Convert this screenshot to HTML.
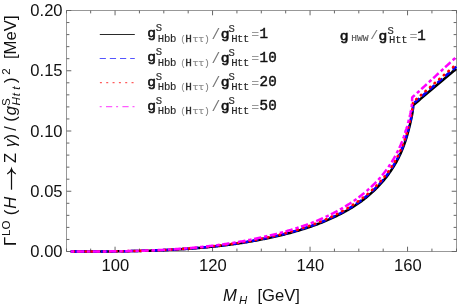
<!DOCTYPE html>
<html><head><meta charset="utf-8"><title>Plot</title>
<style>html,body{margin:0;padding:0;background:#fff;}body{width:458px;height:308px;overflow:hidden;position:relative;font-family:"Liberation Sans",sans-serif;}</style>
</head><body>
<svg width="458" height="308" viewBox="0 0 458 308" style="position:absolute;left:0;top:0;will-change:transform">
<rect width="458" height="308" fill="#fff"/>
<g stroke="#666" stroke-width="1" fill="none">
<rect x="66.50" y="10.50" width="390.00" height="241.00" stroke="#989898"/>
<path d="M66.50,251.50v-2.90 M66.50,10.50v2.90"/>
<path d="M90.67,251.50v-2.90 M90.67,10.50v2.90"/>
<path d="M115.05,251.50v-4.80 M115.05,10.50v4.80"/>
<path d="M139.43,251.50v-2.90 M139.43,10.50v2.90"/>
<path d="M163.80,251.50v-2.90 M163.80,10.50v2.90"/>
<path d="M188.18,251.50v-2.90 M188.18,10.50v2.90"/>
<path d="M212.55,251.50v-4.80 M212.55,10.50v4.80"/>
<path d="M236.93,251.50v-2.90 M236.93,10.50v2.90"/>
<path d="M261.30,251.50v-2.90 M261.30,10.50v2.90"/>
<path d="M285.68,251.50v-2.90 M285.68,10.50v2.90"/>
<path d="M310.05,251.50v-4.80 M310.05,10.50v4.80"/>
<path d="M334.43,251.50v-2.90 M334.43,10.50v2.90"/>
<path d="M358.80,251.50v-2.90 M358.80,10.50v2.90"/>
<path d="M383.18,251.50v-2.90 M383.18,10.50v2.90"/>
<path d="M407.55,251.50v-4.80 M407.55,10.50v4.80"/>
<path d="M431.93,251.50v-2.90 M431.93,10.50v2.90"/>
<path d="M456.50,251.50v-2.90 M456.50,10.50v2.90"/>
<path d="M66.50,251.50h4.80 M456.50,251.50h-4.80"/>
<path d="M66.50,239.45h2.90 M456.50,239.45h-2.90"/>
<path d="M66.50,227.40h2.90 M456.50,227.40h-2.90"/>
<path d="M66.50,215.35h2.90 M456.50,215.35h-2.90"/>
<path d="M66.50,203.30h2.90 M456.50,203.30h-2.90"/>
<path d="M66.50,191.25h4.80 M456.50,191.25h-4.80"/>
<path d="M66.50,179.20h2.90 M456.50,179.20h-2.90"/>
<path d="M66.50,167.15h2.90 M456.50,167.15h-2.90"/>
<path d="M66.50,155.10h2.90 M456.50,155.10h-2.90"/>
<path d="M66.50,143.05h2.90 M456.50,143.05h-2.90"/>
<path d="M66.50,131.00h4.80 M456.50,131.00h-4.80"/>
<path d="M66.50,118.95h2.90 M456.50,118.95h-2.90"/>
<path d="M66.50,106.90h2.90 M456.50,106.90h-2.90"/>
<path d="M66.50,94.85h2.90 M456.50,94.85h-2.90"/>
<path d="M66.50,82.80h2.90 M456.50,82.80h-2.90"/>
<path d="M66.50,70.75h4.80 M456.50,70.75h-4.80"/>
<path d="M66.50,58.70h2.90 M456.50,58.70h-2.90"/>
<path d="M66.50,46.65h2.90 M456.50,46.65h-2.90"/>
<path d="M66.50,34.60h2.90 M456.50,34.60h-2.90"/>
<path d="M66.50,22.55h2.90 M456.50,22.55h-2.90"/>
<path d="M66.50,10.50h4.80 M456.50,10.50h-4.80"/>
</g>
<clipPath id="c"><rect x="66.5" y="0" width="390.5" height="260"/></clipPath>
<g fill="none" stroke-width="2.5" clip-path="url(#c)" stroke-linejoin="round">
<path d="M70.69,251.50 L71.81,251.50 L72.92,251.50 L74.04,251.50 L75.16,251.50 L76.28,251.50 L77.40,251.50 L78.52,251.50 L79.64,251.50 L80.75,251.50 L81.87,251.50 L82.99,251.50 L84.11,251.50 L85.23,251.50 L86.35,251.49 L87.46,251.49 L88.58,251.49 L89.70,251.49 L90.82,251.49 L91.94,251.48 L93.06,251.48 L94.18,251.48 L95.29,251.48 L96.41,251.47 L97.53,251.47 L98.65,251.46 L99.77,251.46 L100.89,251.45 L102.00,251.45 L103.12,251.44 L104.24,251.44 L105.36,251.43 L106.48,251.42 L107.60,251.41 L108.72,251.41 L109.83,251.40 L110.95,251.39 L112.07,251.38 L113.19,251.37 L114.31,251.36 L115.43,251.35 L116.55,251.33 L117.66,251.32 L118.78,251.31 L119.90,251.29 L121.02,251.28 L122.14,251.26 L123.26,251.25 L124.37,251.23 L125.49,251.22 L126.61,251.20 L127.73,251.18 L128.85,251.16 L129.97,251.14 L131.09,251.12 L132.20,251.10 L133.32,251.08 L134.44,251.05 L135.56,251.03 L136.68,251.00 L137.80,250.98 L138.91,250.95 L140.03,250.92 L141.15,250.90 L142.27,250.87 L143.39,250.84 L144.51,250.81 L145.63,250.78 L146.74,250.74 L147.86,250.71 L148.98,250.67 L150.10,250.64 L151.22,250.60 L152.34,250.57 L153.45,250.53 L154.57,250.49 L155.69,250.45 L156.81,250.40 L157.93,250.36 L159.05,250.32 L160.17,250.27 L161.28,250.23 L162.40,250.18 L163.52,250.13 L164.64,250.08 L165.76,250.03 L166.88,249.98 L168.00,249.93 L169.11,249.87 L170.23,249.82 L171.35,249.76 L172.47,249.70 L173.59,249.64 L174.71,249.58 L175.82,249.52 L176.94,249.46 L178.06,249.39 L179.18,249.33 L180.30,249.26 L181.42,249.19 L182.54,249.12 L183.65,249.05 L184.77,248.98 L185.89,248.90 L187.01,248.82 L188.13,248.75 L189.25,248.67 L190.36,248.59 L191.48,248.51 L192.60,248.42 L193.72,248.34 L194.84,248.25 L195.96,248.16 L197.08,248.07 L198.19,247.98 L199.31,247.89 L200.43,247.79 L201.55,247.70 L202.67,247.60 L203.79,247.50 L204.90,247.40 L206.02,247.29 L207.14,247.19 L208.26,247.08 L209.38,246.97 L210.50,246.86 L211.62,246.75 L212.73,246.64 L213.85,246.52 L214.97,246.40 L216.09,246.28 L217.21,246.16 L218.33,246.03 L219.45,245.91 L220.56,245.78 L221.68,245.65 L222.80,245.52 L223.92,245.38 L225.04,245.24 L226.16,245.11 L227.27,244.96 L228.39,244.82 L229.51,244.68 L230.63,244.53 L231.75,244.38 L232.87,244.23 L233.99,244.07 L235.10,243.91 L236.22,243.75 L237.34,243.59 L238.46,243.43 L239.58,243.26 L240.70,243.09 L241.81,242.92 L242.93,242.75 L244.05,242.57 L245.17,242.39 L246.29,242.21 L247.41,242.02 L248.53,241.83 L249.64,241.64 L250.76,241.45 L251.88,241.25 L253.00,241.05 L254.12,240.85 L255.24,240.65 L256.35,240.44 L257.47,240.23 L258.59,240.02 L259.71,239.80 L260.83,239.58 L261.95,239.36 L263.07,239.14 L264.18,238.92 L265.30,238.70 L266.42,238.47 L267.54,238.25 L268.66,238.01 L269.78,237.78 L270.90,237.54 L272.01,237.30 L273.13,237.05 L274.25,236.81 L275.37,236.56 L276.49,236.30 L277.61,236.04 L278.72,235.78 L279.84,235.52 L280.96,235.25 L282.08,234.98 L283.20,234.70 L284.32,234.42 L285.44,234.14 L286.55,233.85 L287.67,233.56 L288.79,233.27 L289.91,232.97 L291.03,232.67 L292.15,232.36 L293.26,232.06 L294.38,231.74 L295.50,231.42 L296.62,231.10 L297.74,230.77 L298.86,230.44 L299.98,230.11 L301.09,229.77 L302.21,229.42 L303.33,229.07 L304.45,228.72 L305.57,228.36 L306.69,228.00 L307.80,227.63 L308.92,227.25 L310.04,226.88 L311.16,226.49 L312.28,226.09 L313.40,225.69 L314.52,225.28 L315.63,224.87 L316.75,224.46 L317.87,224.03 L318.99,223.60 L320.11,223.17 L321.23,222.72 L322.35,222.27 L323.46,221.82 L324.58,221.36 L325.70,220.89 L326.82,220.41 L327.94,219.93 L329.06,219.44 L330.17,218.94 L331.29,218.44 L332.41,217.92 L333.53,217.40 L334.65,216.88 L335.77,216.34 L336.89,215.79 L338.00,215.24 L339.12,214.68 L340.24,214.10 L341.36,213.52 L342.48,212.93 L343.60,212.33 L344.71,211.72 L345.83,211.10 L346.95,210.47 L348.07,209.83 L349.19,209.18 L350.31,208.52 L351.43,207.84 L352.54,207.15 L353.66,206.45 L354.78,205.74 L355.90,205.02 L357.02,204.28 L358.14,203.53 L359.25,202.75 L360.37,201.94 L361.49,201.12 L362.61,200.28 L363.73,199.42 L364.85,198.54 L365.97,197.65 L367.08,196.74 L368.20,195.80 L369.32,194.85 L370.44,193.87 L371.56,192.88 L372.68,191.86 L373.80,190.81 L374.91,189.74 L376.03,188.65 L377.15,187.52 L378.27,186.37 L379.39,185.19 L380.51,183.98 L381.62,182.73 L382.74,181.44 L383.86,180.12 L384.98,178.76 L386.10,177.36 L387.22,175.92 L388.34,174.42 L389.45,172.88 L390.57,171.28 L391.69,169.62 L392.81,167.89 L393.93,166.10 L395.05,164.23 L396.16,162.28 L397.28,160.23 L398.40,158.08 L399.52,155.81 L400.64,153.40 L401.76,150.84 L402.88,148.10 L403.99,145.14 L405.11,141.93 L405.11,141.93 L405.16,141.78 L405.21,141.63 L405.26,141.48 L405.31,141.33 L405.37,141.17 L405.42,141.02 L405.47,140.86 L405.52,140.71 L405.57,140.55 L405.62,140.39 L405.67,140.24 L405.72,140.08 L405.77,139.92 L405.82,139.76 L405.87,139.60 L405.92,139.44 L405.97,139.28 L406.02,139.12 L406.07,138.95 L406.12,138.79 L406.17,138.63 L406.23,138.46 L406.28,138.30 L406.33,138.13 L406.38,137.97 L406.43,137.80 L406.48,137.63 L406.53,137.47 L406.58,137.30 L406.63,137.13 L406.68,136.96 L406.73,136.79 L406.78,136.62 L406.83,136.45 L406.88,136.28 L406.93,136.10 L406.98,135.93 L407.03,135.75 L407.09,135.58 L407.14,135.40 L407.19,135.23 L407.24,135.05 L407.29,134.87 L407.34,134.70 L407.39,134.52 L407.44,134.34 L407.49,134.16 L407.54,133.98 L407.59,133.80 L407.64,133.62 L407.69,133.43 L407.74,133.25 L407.79,133.07 L407.84,132.88 L407.89,132.70 L407.95,132.51 L408.00,132.33 L408.05,132.14 L408.10,131.95 L408.15,131.76 L408.20,131.57 L408.25,131.38 L408.30,131.19 L408.35,131.00 L408.40,130.81 L408.45,130.62 L408.50,130.43 L408.55,130.23 L408.60,130.04 L408.65,129.84 L408.70,129.65 L408.75,129.45 L408.81,129.25 L408.86,129.06 L408.91,128.86 L408.96,128.66 L409.01,128.46 L409.06,128.26 L409.11,128.06 L409.16,127.85 L409.21,127.65 L409.26,127.45 L409.31,127.24 L409.36,127.04 L409.41,126.84 L409.46,126.63 L409.51,126.42 L409.56,126.21 L409.61,126.01 L409.67,125.80 L409.72,125.59 L409.77,125.38 L409.82,125.17 L409.87,124.95 L409.92,124.74 L409.97,124.53 L410.02,124.31 L410.07,124.10 L410.12,123.88 L410.17,123.67 L410.22,123.45 L410.27,123.23 L410.32,123.01 L410.37,122.79 L410.42,122.57 L410.47,122.35 L410.53,122.13 L410.58,121.91 L410.63,121.68 L410.68,121.46 L410.73,121.23 L410.78,121.01 L410.83,120.78 L410.88,120.55 L410.93,120.32 L410.98,120.09 L411.03,119.86 L411.08,119.63 L411.13,119.39 L411.18,119.16 L411.23,118.92 L411.28,118.68 L411.34,118.44 L411.39,118.20 L411.44,117.96 L411.49,117.72 L411.54,117.48 L411.59,117.23 L411.64,116.98 L411.69,116.73 L411.74,116.48 L411.79,116.23 L411.84,115.97 L411.89,115.72 L411.94,115.46 L411.99,115.19 L412.04,114.93 L412.09,114.66 L412.14,114.39 L412.20,114.12 L412.25,113.84 L412.30,113.56 L412.35,113.27 L412.40,112.98 L412.45,112.68 L412.50,112.37 L412.55,112.06 L412.60,111.74 L412.65,111.41 L412.70,111.07 L412.75,110.71 L412.80,110.34 L412.85,109.95 L412.90,109.52 L412.95,109.06 L413.00,108.55 L413.06,107.95 L413.11,107.17 L413.16,105.30 L413.16,105.30 L414.64,104.02 L416.13,102.74 L417.62,101.46 L419.11,100.18 L420.59,98.90 L422.08,97.63 L423.57,96.36 L425.06,95.09 L426.55,93.82 L428.03,92.55 L429.52,91.29 L431.01,90.02 L432.50,88.76 L433.98,87.51 L435.47,86.25 L436.96,84.99 L438.45,83.74 L439.94,82.49 L441.42,81.24 L442.91,79.99 L444.40,78.75 L445.89,77.51 L447.37,76.27 L448.86,75.03 L450.35,73.79 L451.84,72.56 L453.32,71.33 L454.81,70.10 L456.30,68.87" stroke="#000"/>
<path d="M70.69,251.50 L71.81,251.50 L72.92,251.50 L74.04,251.50 L75.16,251.50 L76.28,251.50 L77.40,251.50 L78.52,251.50 L79.64,251.50 L80.75,251.50 L81.87,251.50 L82.99,251.50 L84.11,251.50 L85.23,251.50 L86.35,251.49 L87.46,251.49 L88.58,251.49 L89.70,251.49 L90.82,251.49 L91.94,251.48 L93.06,251.48 L94.18,251.48 L95.29,251.47 L96.41,251.47 L97.53,251.47 L98.65,251.46 L99.77,251.46 L100.89,251.45 L102.00,251.45 L103.12,251.44 L104.24,251.43 L105.36,251.43 L106.48,251.42 L107.60,251.41 L108.72,251.40 L109.83,251.39 L110.95,251.38 L112.07,251.37 L113.19,251.36 L114.31,251.35 L115.43,251.34 L116.55,251.33 L117.66,251.31 L118.78,251.30 L119.90,251.29 L121.02,251.27 L122.14,251.25 L123.26,251.24 L124.37,251.22 L125.49,251.20 L126.61,251.19 L127.73,251.17 L128.85,251.15 L129.97,251.13 L131.09,251.10 L132.20,251.08 L133.32,251.06 L134.44,251.03 L135.56,251.01 L136.68,250.98 L137.80,250.96 L138.91,250.93 L140.03,250.90 L141.15,250.87 L142.27,250.84 L143.39,250.81 L144.51,250.78 L145.63,250.75 L146.74,250.71 L147.86,250.68 L148.98,250.64 L150.10,250.61 L151.22,250.57 L152.34,250.53 L153.45,250.49 L154.57,250.45 L155.69,250.41 L156.81,250.36 L157.93,250.32 L159.05,250.27 L160.17,250.23 L161.28,250.18 L162.40,250.13 L163.52,250.08 L164.64,250.03 L165.76,249.98 L166.88,249.92 L168.00,249.87 L169.11,249.81 L170.23,249.75 L171.35,249.69 L172.47,249.63 L173.59,249.57 L174.71,249.51 L175.82,249.45 L176.94,249.38 L178.06,249.31 L179.18,249.25 L180.30,249.18 L181.42,249.11 L182.54,249.03 L183.65,248.96 L184.77,248.88 L185.89,248.81 L187.01,248.73 L188.13,248.65 L189.25,248.57 L190.36,248.48 L191.48,248.40 L192.60,248.31 L193.72,248.23 L194.84,248.14 L195.96,248.05 L197.08,247.95 L198.19,247.86 L199.31,247.76 L200.43,247.66 L201.55,247.56 L202.67,247.46 L203.79,247.36 L204.90,247.26 L206.02,247.15 L207.14,247.04 L208.26,246.93 L209.38,246.82 L210.50,246.70 L211.62,246.59 L212.73,246.47 L213.85,246.35 L214.97,246.23 L216.09,246.10 L217.21,245.98 L218.33,245.85 L219.45,245.72 L220.56,245.59 L221.68,245.45 L222.80,245.32 L223.92,245.18 L225.04,245.04 L226.16,244.89 L227.27,244.75 L228.39,244.60 L229.51,244.45 L230.63,244.30 L231.75,244.15 L232.87,243.99 L233.99,243.83 L235.10,243.67 L236.22,243.50 L237.34,243.34 L238.46,243.17 L239.58,243.00 L240.70,242.82 L241.81,242.65 L242.93,242.47 L244.05,242.29 L245.17,242.10 L246.29,241.91 L247.41,241.72 L248.53,241.53 L249.64,241.34 L250.76,241.14 L251.88,240.94 L253.00,240.73 L254.12,240.52 L255.24,240.31 L256.35,240.10 L257.47,239.88 L258.59,239.67 L259.71,239.44 L260.83,239.22 L261.95,238.99 L263.07,238.77 L264.18,238.55 L265.30,238.32 L266.42,238.09 L267.54,237.85 L268.66,237.62 L269.78,237.38 L270.90,237.13 L272.01,236.89 L273.13,236.64 L274.25,236.38 L275.37,236.13 L276.49,235.87 L277.61,235.61 L278.72,235.34 L279.84,235.07 L280.96,234.80 L282.08,234.52 L283.20,234.24 L284.32,233.95 L285.44,233.67 L286.55,233.37 L287.67,233.08 L288.79,232.78 L289.91,232.48 L291.03,232.17 L292.15,231.86 L293.26,231.54 L294.38,231.22 L295.50,230.90 L296.62,230.57 L297.74,230.24 L298.86,229.90 L299.98,229.56 L301.09,229.22 L302.21,228.87 L303.33,228.51 L304.45,228.15 L305.57,227.79 L306.69,227.42 L307.80,227.04 L308.92,226.66 L310.04,226.28 L311.16,225.88 L312.28,225.48 L313.40,225.07 L314.52,224.66 L315.63,224.24 L316.75,223.81 L317.87,223.38 L318.99,222.94 L320.11,222.50 L321.23,222.05 L322.35,221.59 L323.46,221.12 L324.58,220.65 L325.70,220.18 L326.82,219.69 L327.94,219.20 L329.06,218.70 L330.17,218.19 L331.29,217.68 L332.41,217.16 L333.53,216.63 L334.65,216.09 L335.77,215.54 L336.89,214.98 L338.00,214.42 L339.12,213.85 L340.24,213.27 L341.36,212.67 L342.48,212.07 L343.60,211.46 L344.71,210.84 L345.83,210.21 L346.95,209.57 L348.07,208.92 L349.19,208.25 L350.31,207.58 L351.43,206.89 L352.54,206.19 L353.66,205.48 L354.78,204.76 L355.90,204.02 L357.02,203.27 L358.14,202.50 L359.25,201.72 L360.37,200.90 L361.49,200.07 L362.61,199.22 L363.73,198.35 L364.85,197.47 L365.97,196.56 L367.08,195.64 L368.20,194.70 L369.32,193.74 L370.44,192.75 L371.56,191.75 L372.68,190.72 L373.80,189.66 L374.91,188.58 L376.03,187.48 L377.15,186.35 L378.27,185.19 L379.39,183.99 L380.51,182.77 L381.62,181.51 L382.74,180.22 L383.86,178.89 L384.98,177.51 L386.10,176.10 L387.22,174.63 L388.34,173.12 L389.45,171.56 L390.57,169.94 L391.69,168.26 L392.81,166.52 L393.93,164.71 L395.05,162.82 L396.16,160.85 L397.28,158.78 L398.40,156.61 L399.52,154.31 L400.64,151.89 L401.76,149.30 L402.88,146.54 L403.99,143.55 L405.11,140.32 L405.11,140.32 L405.16,140.16 L405.21,140.01 L405.26,139.86 L405.31,139.70 L405.37,139.55 L405.42,139.39 L405.47,139.23 L405.52,139.08 L405.57,138.92 L405.62,138.76 L405.67,138.60 L405.72,138.44 L405.77,138.28 L405.82,138.12 L405.87,137.96 L405.92,137.80 L405.97,137.64 L406.02,137.48 L406.07,137.31 L406.12,137.15 L406.17,136.98 L406.23,136.82 L406.28,136.65 L406.33,136.49 L406.38,136.32 L406.43,136.15 L406.48,135.98 L406.53,135.81 L406.58,135.64 L406.63,135.47 L406.68,135.30 L406.73,135.13 L406.78,134.96 L406.83,134.79 L406.88,134.61 L406.93,134.44 L406.98,134.26 L407.03,134.09 L407.09,133.91 L407.14,133.74 L407.19,133.56 L407.24,133.38 L407.29,133.20 L407.34,133.03 L407.39,132.85 L407.44,132.67 L407.49,132.48 L407.54,132.30 L407.59,132.12 L407.64,131.94 L407.69,131.75 L407.74,131.57 L407.79,131.39 L407.84,131.20 L407.89,131.01 L407.95,130.83 L408.00,130.64 L408.05,130.45 L408.10,130.26 L408.15,130.08 L408.20,129.89 L408.25,129.69 L408.30,129.50 L408.35,129.31 L408.40,129.12 L408.45,128.93 L408.50,128.73 L408.55,128.54 L408.60,128.34 L408.65,128.15 L408.70,127.95 L408.75,127.75 L408.81,127.56 L408.86,127.36 L408.91,127.16 L408.96,126.96 L409.01,126.76 L409.06,126.56 L409.11,126.36 L409.16,126.16 L409.21,125.95 L409.26,125.75 L409.31,125.54 L409.36,125.34 L409.41,125.13 L409.46,124.93 L409.51,124.72 L409.56,124.51 L409.61,124.31 L409.67,124.10 L409.72,123.89 L409.77,123.68 L409.82,123.46 L409.87,123.25 L409.92,123.04 L409.97,122.83 L410.02,122.61 L410.07,122.40 L410.12,122.18 L410.17,121.97 L410.22,121.75 L410.27,121.53 L410.32,121.31 L410.37,121.10 L410.42,120.88 L410.47,120.65 L410.53,120.43 L410.58,120.21 L410.63,119.99 L410.68,119.76 L410.73,119.54 L410.78,119.31 L410.83,119.09 L410.88,118.86 L410.93,118.63 L410.98,118.40 L411.03,118.17 L411.08,117.94 L411.13,117.71 L411.18,117.47 L411.23,117.24 L411.28,117.00 L411.34,116.76 L411.39,116.52 L411.44,116.28 L411.49,116.04 L411.54,115.80 L411.59,115.56 L411.64,115.31 L411.69,115.06 L411.74,114.81 L411.79,114.56 L411.84,114.31 L411.89,114.06 L411.94,113.80 L411.99,113.54 L412.04,113.28 L412.09,113.01 L412.14,112.74 L412.20,112.47 L412.25,112.19 L412.30,111.91 L412.35,111.63 L412.40,111.34 L412.45,111.04 L412.50,110.74 L412.55,110.43 L412.60,110.12 L412.65,109.79 L412.70,109.45 L412.75,109.10 L412.80,108.73 L412.85,108.34 L412.90,107.92 L412.95,107.46 L413.00,106.95 L413.06,106.35 L413.11,105.58 L413.16,103.70 L413.16,103.70 L414.64,102.42 L416.13,101.13 L417.62,99.84 L419.11,98.55 L420.59,97.26 L422.08,95.97 L423.57,94.69 L425.06,93.40 L426.55,92.11 L428.03,90.83 L429.52,89.55 L431.01,88.27 L432.50,86.99 L433.98,85.71 L435.47,84.43 L436.96,83.16 L438.45,81.89 L439.94,80.61 L441.42,79.35 L442.91,78.08 L444.40,76.81 L445.89,75.55 L447.37,74.28 L448.86,73.02 L450.35,71.77 L451.84,70.51 L453.32,69.25 L454.81,68.00 L456.30,66.75" stroke="#0000ff" stroke-dasharray="6.6 3.5"/>
<path d="M70.69,251.50 L71.81,251.50 L72.92,251.50 L74.04,251.50 L75.16,251.50 L76.28,251.50 L77.40,251.50 L78.52,251.50 L79.64,251.50 L80.75,251.50 L81.87,251.50 L82.99,251.50 L84.11,251.50 L85.23,251.50 L86.35,251.49 L87.46,251.49 L88.58,251.49 L89.70,251.49 L90.82,251.49 L91.94,251.48 L93.06,251.48 L94.18,251.48 L95.29,251.47 L96.41,251.47 L97.53,251.46 L98.65,251.46 L99.77,251.45 L100.89,251.45 L102.00,251.44 L103.12,251.44 L104.24,251.43 L105.36,251.42 L106.48,251.41 L107.60,251.41 L108.72,251.40 L109.83,251.39 L110.95,251.38 L112.07,251.37 L113.19,251.36 L114.31,251.34 L115.43,251.33 L116.55,251.32 L117.66,251.30 L118.78,251.29 L119.90,251.28 L121.02,251.26 L122.14,251.24 L123.26,251.23 L124.37,251.21 L125.49,251.19 L126.61,251.17 L127.73,251.15 L128.85,251.13 L129.97,251.11 L131.09,251.09 L132.20,251.06 L133.32,251.04 L134.44,251.01 L135.56,250.99 L136.68,250.96 L137.80,250.93 L138.91,250.90 L140.03,250.88 L141.15,250.85 L142.27,250.81 L143.39,250.78 L144.51,250.75 L145.63,250.71 L146.74,250.68 L147.86,250.64 L148.98,250.61 L150.10,250.57 L151.22,250.53 L152.34,250.49 L153.45,250.45 L154.57,250.40 L155.69,250.36 L156.81,250.31 L157.93,250.27 L159.05,250.22 L160.17,250.17 L161.28,250.12 L162.40,250.07 L163.52,250.02 L164.64,249.97 L165.76,249.91 L166.88,249.86 L168.00,249.80 L169.11,249.74 L170.23,249.68 L171.35,249.62 L172.47,249.56 L173.59,249.49 L174.71,249.43 L175.82,249.36 L176.94,249.29 L178.06,249.23 L179.18,249.15 L180.30,249.08 L181.42,249.01 L182.54,248.93 L183.65,248.86 L184.77,248.78 L185.89,248.70 L187.01,248.62 L188.13,248.54 L189.25,248.45 L190.36,248.37 L191.48,248.28 L192.60,248.19 L193.72,248.10 L194.84,248.01 L195.96,247.91 L197.08,247.82 L198.19,247.72 L199.31,247.62 L200.43,247.52 L201.55,247.41 L202.67,247.31 L203.79,247.20 L204.90,247.09 L206.02,246.98 L207.14,246.87 L208.26,246.76 L209.38,246.64 L210.50,246.52 L211.62,246.40 L212.73,246.28 L213.85,246.16 L214.97,246.03 L216.09,245.90 L217.21,245.77 L218.33,245.64 L219.45,245.51 L220.56,245.37 L221.68,245.23 L222.80,245.09 L223.92,244.95 L225.04,244.80 L226.16,244.66 L227.27,244.51 L228.39,244.35 L229.51,244.20 L230.63,244.04 L231.75,243.88 L232.87,243.72 L233.99,243.56 L235.10,243.39 L236.22,243.22 L237.34,243.05 L238.46,242.88 L239.58,242.70 L240.70,242.52 L241.81,242.34 L242.93,242.15 L244.05,241.97 L245.17,241.78 L246.29,241.58 L247.41,241.39 L248.53,241.19 L249.64,240.99 L250.76,240.78 L251.88,240.58 L253.00,240.37 L254.12,240.15 L255.24,239.94 L256.35,239.72 L257.47,239.49 L258.59,239.27 L259.71,239.04 L260.83,238.81 L261.95,238.58 L263.07,238.35 L264.18,238.12 L265.30,237.89 L266.42,237.65 L267.54,237.41 L268.66,237.17 L269.78,236.92 L270.90,236.67 L272.01,236.42 L273.13,236.17 L274.25,235.91 L275.37,235.65 L276.49,235.38 L277.61,235.11 L278.72,234.84 L279.84,234.56 L280.96,234.29 L282.08,234.00 L283.20,233.72 L284.32,233.43 L285.44,233.13 L286.55,232.83 L287.67,232.53 L288.79,232.23 L289.91,231.92 L291.03,231.60 L292.15,231.29 L293.26,230.97 L294.38,230.64 L295.50,230.31 L296.62,229.98 L297.74,229.64 L298.86,229.30 L299.98,228.95 L301.09,228.60 L302.21,228.24 L303.33,227.88 L304.45,227.51 L305.57,227.14 L306.69,226.77 L307.80,226.39 L308.92,226.00 L310.04,225.61 L311.16,225.20 L312.28,224.79 L313.40,224.37 L314.52,223.95 L315.63,223.52 L316.75,223.09 L317.87,222.64 L318.99,222.20 L320.11,221.74 L321.23,221.28 L322.35,220.82 L323.46,220.34 L324.58,219.86 L325.70,219.37 L326.82,218.88 L327.94,218.38 L329.06,217.87 L330.17,217.35 L331.29,216.82 L332.41,216.29 L333.53,215.75 L334.65,215.20 L335.77,214.64 L336.89,214.08 L338.00,213.50 L339.12,212.92 L340.24,212.32 L341.36,211.72 L342.48,211.11 L343.60,210.48 L344.71,209.85 L345.83,209.21 L346.95,208.55 L348.07,207.89 L349.19,207.21 L350.31,206.52 L351.43,205.82 L352.54,205.11 L353.66,204.39 L354.78,203.65 L355.90,202.90 L357.02,202.13 L358.14,201.35 L359.25,200.55 L360.37,199.73 L361.49,198.88 L362.61,198.03 L363.73,197.15 L364.85,196.25 L365.97,195.34 L367.08,194.41 L368.20,193.46 L369.32,192.49 L370.44,191.49 L371.56,190.48 L372.68,189.44 L373.80,188.37 L374.91,187.28 L376.03,186.17 L377.15,185.03 L378.27,183.85 L379.39,182.65 L380.51,181.42 L381.62,180.15 L382.74,178.85 L383.86,177.50 L384.98,176.11 L386.10,174.67 L387.22,173.19 L388.34,171.66 L389.45,170.08 L390.57,168.44 L391.69,166.75 L392.81,164.98 L393.93,163.15 L395.05,161.24 L396.16,159.24 L397.28,157.15 L398.40,154.96 L399.52,152.64 L400.64,150.19 L401.76,147.58 L402.88,144.78 L403.99,141.77 L405.11,138.50 L405.11,138.50 L405.16,138.35 L405.21,138.20 L405.26,138.05 L405.31,137.90 L405.36,137.75 L405.41,137.60 L405.46,137.44 L405.50,137.29 L405.55,137.14 L405.60,136.98 L405.65,136.83 L405.70,136.67 L405.75,136.51 L405.80,136.36 L405.85,136.20 L405.90,136.04 L405.95,135.88 L406.00,135.73 L406.04,135.57 L406.09,135.41 L406.14,135.25 L406.19,135.08 L406.24,134.92 L406.29,134.76 L406.34,134.60 L406.39,134.43 L406.44,134.27 L406.49,134.11 L406.54,133.94 L406.58,133.77 L406.63,133.61 L406.68,133.44 L406.73,133.27 L406.78,133.11 L406.83,132.94 L406.88,132.77 L406.93,132.60 L406.98,132.43 L407.03,132.26 L407.07,132.09 L407.12,131.91 L407.17,131.74 L407.22,131.57 L407.27,131.39 L407.32,131.22 L407.37,131.04 L407.42,130.87 L407.47,130.69 L407.52,130.52 L407.57,130.34 L407.61,130.16 L407.66,129.98 L407.71,129.80 L407.76,129.62 L407.81,129.44 L407.86,129.26 L407.91,129.08 L407.96,128.90 L408.01,128.72 L408.06,128.53 L408.10,128.35 L408.15,128.16 L408.20,127.98 L408.25,127.79 L408.30,127.61 L408.35,127.42 L408.40,127.23 L408.45,127.04 L408.50,126.86 L408.55,126.67 L408.60,126.48 L408.64,126.29 L408.69,126.10 L408.74,125.90 L408.79,125.71 L408.84,125.52 L408.89,125.33 L408.94,125.13 L408.99,124.94 L409.04,124.74 L409.09,124.54 L409.14,124.35 L409.18,124.15 L409.23,123.95 L409.28,123.75 L409.33,123.56 L409.38,123.36 L409.43,123.15 L409.48,122.95 L409.53,122.75 L409.58,122.55 L409.63,122.35 L409.67,122.14 L409.72,121.94 L409.77,121.73 L409.82,121.53 L409.87,121.32 L409.92,121.11 L409.97,120.90 L410.02,120.70 L410.07,120.49 L410.12,120.28 L410.17,120.06 L410.21,119.85 L410.26,119.64 L410.31,119.43 L410.36,119.21 L410.41,119.00 L410.46,118.78 L410.51,118.56 L410.56,118.35 L410.61,118.13 L410.66,117.91 L410.70,117.69 L410.75,117.47 L410.80,117.24 L410.85,117.02 L410.90,116.79 L410.95,116.57 L411.00,116.34 L411.05,116.11 L411.10,115.88 L411.15,115.65 L411.20,115.42 L411.24,115.18 L411.29,114.95 L411.34,114.71 L411.39,114.47 L411.44,114.23 L411.49,113.99 L411.54,113.74 L411.59,113.49 L411.64,113.24 L411.69,112.99 L411.74,112.74 L411.78,112.48 L411.83,112.22 L411.88,111.95 L411.93,111.69 L411.98,111.41 L412.03,111.14 L412.08,110.86 L412.13,110.57 L412.18,110.28 L412.23,109.98 L412.27,109.67 L412.32,109.35 L412.37,109.03 L412.42,108.69 L412.47,108.34 L412.52,107.97 L412.57,107.58 L412.62,107.17 L412.67,106.73 L412.72,106.24 L412.77,105.69 L412.81,105.04 L412.86,104.19 L412.91,102.11 L412.91,102.11 L414.41,100.82 L415.90,99.52 L417.40,98.21 L418.90,96.90 L420.39,95.59 L421.89,94.28 L423.39,92.97 L424.88,91.66 L426.38,90.35 L427.87,89.04 L429.37,87.73 L430.87,86.42 L432.36,85.11 L433.86,83.81 L435.35,82.50 L436.85,81.20 L438.35,79.90 L439.84,78.60 L441.34,77.30 L442.83,76.00 L444.33,74.70 L445.83,73.41 L447.32,72.11 L448.82,70.82 L450.32,69.53 L451.81,68.24 L453.31,66.96 L454.80,65.67 L456.30,64.39" stroke="#ff0000" stroke-dasharray="0.6 5.5" stroke-dashoffset="-2.65" stroke-linecap="round" stroke-width="2.6"/>
<path d="M70.69,251.50 L71.81,251.50 L72.92,251.50 L74.04,251.50 L75.16,251.50 L76.28,251.50 L77.40,251.50 L78.52,251.50 L79.64,251.50 L80.75,251.50 L81.87,251.50 L82.99,251.50 L84.11,251.50 L85.23,251.49 L86.35,251.49 L87.46,251.49 L88.58,251.49 L89.70,251.49 L90.82,251.48 L91.94,251.48 L93.06,251.48 L94.18,251.47 L95.29,251.47 L96.41,251.46 L97.53,251.46 L98.65,251.45 L99.77,251.45 L100.89,251.44 L102.00,251.43 L103.12,251.43 L104.24,251.42 L105.36,251.41 L106.48,251.40 L107.60,251.39 L108.72,251.38 L109.83,251.37 L110.95,251.36 L112.07,251.35 L113.19,251.34 L114.31,251.32 L115.43,251.31 L116.55,251.29 L117.66,251.28 L118.78,251.26 L119.90,251.24 L121.02,251.23 L122.14,251.21 L123.26,251.19 L124.37,251.17 L125.49,251.15 L126.61,251.13 L127.73,251.10 L128.85,251.08 L129.97,251.05 L131.09,251.03 L132.20,251.00 L133.32,250.98 L134.44,250.95 L135.56,250.92 L136.68,250.89 L137.80,250.86 L138.91,250.82 L140.03,250.79 L141.15,250.76 L142.27,250.72 L143.39,250.69 L144.51,250.65 L145.63,250.61 L146.74,250.57 L147.86,250.53 L148.98,250.49 L150.10,250.44 L151.22,250.40 L152.34,250.35 L153.45,250.31 L154.57,250.26 L155.69,250.21 L156.81,250.16 L157.93,250.11 L159.05,250.06 L160.17,250.00 L161.28,249.95 L162.40,249.89 L163.52,249.83 L164.64,249.77 L165.76,249.71 L166.88,249.65 L168.00,249.58 L169.11,249.52 L170.23,249.45 L171.35,249.38 L172.47,249.31 L173.59,249.24 L174.71,249.17 L175.82,249.10 L176.94,249.02 L178.06,248.94 L179.18,248.86 L180.30,248.78 L181.42,248.70 L182.54,248.62 L183.65,248.53 L184.77,248.45 L185.89,248.36 L187.01,248.27 L188.13,248.18 L189.25,248.08 L190.36,247.99 L191.48,247.89 L192.60,247.79 L193.72,247.69 L194.84,247.59 L195.96,247.48 L197.08,247.38 L198.19,247.27 L199.31,247.16 L200.43,247.05 L201.55,246.93 L202.67,246.82 L203.79,246.70 L204.90,246.58 L206.02,246.46 L207.14,246.33 L208.26,246.21 L209.38,246.08 L210.50,245.95 L211.62,245.82 L212.73,245.68 L213.85,245.55 L214.97,245.41 L216.09,245.27 L217.21,245.12 L218.33,244.98 L219.45,244.83 L220.56,244.68 L221.68,244.53 L222.80,244.37 L223.92,244.22 L225.04,244.06 L226.16,243.90 L227.27,243.73 L228.39,243.56 L229.51,243.39 L230.63,243.22 L231.75,243.05 L232.87,242.87 L233.99,242.69 L235.10,242.51 L236.22,242.32 L237.34,242.14 L238.46,241.95 L239.58,241.75 L240.70,241.56 L241.81,241.36 L242.93,241.16 L244.05,240.95 L245.17,240.74 L246.29,240.53 L247.41,240.32 L248.53,240.10 L249.64,239.88 L250.76,239.66 L251.88,239.44 L253.00,239.21 L254.12,238.97 L255.24,238.74 L256.35,238.50 L257.47,238.26 L258.59,238.01 L259.71,237.76 L260.83,237.51 L261.95,237.26 L263.07,237.02 L264.18,236.77 L265.30,236.52 L266.42,236.27 L267.54,236.01 L268.66,235.75 L269.78,235.49 L270.90,235.22 L272.01,234.95 L273.13,234.68 L274.25,234.41 L275.37,234.13 L276.49,233.84 L277.61,233.56 L278.72,233.27 L279.84,232.97 L280.96,232.68 L282.08,232.38 L283.20,232.07 L284.32,231.76 L285.44,231.45 L286.55,231.14 L287.67,230.82 L288.79,230.49 L289.91,230.16 L291.03,229.83 L292.15,229.50 L293.26,229.16 L294.38,228.81 L295.50,228.46 L296.62,228.11 L297.74,227.76 L298.86,227.39 L299.98,227.03 L301.09,226.66 L302.21,226.28 L303.33,225.90 L304.45,225.52 L305.57,225.13 L306.69,224.73 L307.80,224.33 L308.92,223.93 L310.04,223.52 L311.16,223.09 L312.28,222.65 L313.40,222.20 L314.52,221.75 L315.63,221.29 L316.75,220.83 L317.87,220.36 L318.99,219.88 L320.11,219.40 L321.23,218.91 L322.35,218.41 L323.46,217.90 L324.58,217.39 L325.70,216.87 L326.82,216.35 L327.94,215.81 L329.06,215.27 L330.17,214.72 L331.29,214.16 L332.41,213.59 L333.53,213.02 L334.65,212.44 L335.77,211.84 L336.89,211.24 L338.00,210.63 L339.12,210.01 L340.24,209.38 L341.36,208.74 L342.48,208.09 L343.60,207.43 L344.71,206.76 L345.83,206.08 L346.95,205.38 L348.07,204.68 L349.19,203.96 L350.31,203.23 L351.43,202.49 L352.54,201.74 L353.66,200.97 L354.78,200.19 L355.90,199.40 L357.02,198.59 L358.14,197.77 L359.25,196.93 L360.37,196.07 L361.49,195.20 L362.61,194.32 L363.73,193.41 L364.85,192.49 L365.97,191.55 L367.08,190.59 L368.20,189.61 L369.32,188.61 L370.44,187.59 L371.56,186.54 L372.68,185.48 L373.80,184.38 L374.91,183.27 L376.03,182.12 L377.15,180.95 L378.27,179.75 L379.39,178.52 L380.51,177.26 L381.62,175.96 L382.74,174.63 L383.86,173.24 L384.98,171.79 L386.10,170.30 L387.22,168.77 L388.34,167.18 L389.45,165.54 L390.57,163.85 L391.69,162.09 L392.81,160.27 L393.93,158.37 L395.05,156.39 L396.16,154.33 L397.28,152.17 L398.40,149.90 L399.52,147.51 L400.64,144.98 L401.76,142.29 L402.88,139.41 L403.99,136.31 L405.11,132.95 L405.11,132.95 L405.16,132.81 L405.20,132.67 L405.25,132.53 L405.29,132.39 L405.33,132.25 L405.38,132.11 L405.42,131.96 L405.47,131.82 L405.51,131.68 L405.56,131.54 L405.60,131.39 L405.65,131.25 L405.69,131.10 L405.73,130.96 L405.78,130.81 L405.82,130.67 L405.87,130.52 L405.91,130.38 L405.96,130.23 L406.00,130.08 L406.05,129.93 L406.09,129.78 L406.14,129.64 L406.18,129.49 L406.22,129.34 L406.27,129.19 L406.31,129.04 L406.36,128.88 L406.40,128.73 L406.45,128.58 L406.49,128.43 L406.54,128.28 L406.58,128.12 L406.62,127.97 L406.67,127.81 L406.71,127.66 L406.76,127.50 L406.80,127.35 L406.85,127.19 L406.89,127.04 L406.94,126.88 L406.98,126.72 L407.02,126.56 L407.07,126.40 L407.11,126.25 L407.16,126.09 L407.20,125.93 L407.25,125.77 L407.29,125.61 L407.34,125.44 L407.38,125.28 L407.42,125.12 L407.47,124.96 L407.51,124.79 L407.56,124.63 L407.60,124.47 L407.65,124.30 L407.69,124.14 L407.74,123.97 L407.78,123.81 L407.82,123.64 L407.87,123.47 L407.91,123.31 L407.96,123.14 L408.00,122.97 L408.05,122.80 L408.09,122.63 L408.14,122.46 L408.18,122.29 L408.22,122.12 L408.27,121.95 L408.31,121.78 L408.36,121.60 L408.40,121.43 L408.45,121.26 L408.49,121.08 L408.54,120.91 L408.58,120.73 L408.62,120.56 L408.67,120.38 L408.71,120.21 L408.76,120.03 L408.80,119.85 L408.85,119.67 L408.89,119.49 L408.94,119.31 L408.98,119.13 L409.02,118.95 L409.07,118.77 L409.11,118.59 L409.16,118.41 L409.20,118.22 L409.25,118.04 L409.29,117.86 L409.34,117.67 L409.38,117.48 L409.42,117.30 L409.47,117.11 L409.51,116.92 L409.56,116.73 L409.60,116.54 L409.65,116.35 L409.69,116.16 L409.74,115.97 L409.78,115.77 L409.83,115.58 L409.87,115.38 L409.91,115.19 L409.96,114.99 L410.00,114.79 L410.05,114.59 L410.09,114.39 L410.14,114.19 L410.18,113.99 L410.23,113.78 L410.27,113.58 L410.31,113.37 L410.36,113.16 L410.40,112.95 L410.45,112.74 L410.49,112.53 L410.54,112.31 L410.58,112.10 L410.63,111.88 L410.67,111.66 L410.71,111.43 L410.76,111.21 L410.80,110.98 L410.85,110.75 L410.89,110.52 L410.94,110.28 L410.98,110.04 L411.03,109.80 L411.07,109.56 L411.11,109.31 L411.16,109.05 L411.20,108.80 L411.25,108.53 L411.29,108.26 L411.34,107.99 L411.38,107.71 L411.43,107.42 L411.47,107.13 L411.51,106.83 L411.56,106.51 L411.60,106.19 L411.65,105.85 L411.69,105.50 L411.74,105.14 L411.78,104.76 L411.83,104.35 L411.87,103.92 L411.91,103.45 L411.96,102.94 L412.00,102.38 L412.05,101.73 L412.09,100.95 L412.14,99.92 L412.18,97.35 L412.18,97.35 L413.70,96.04 L415.22,94.69 L416.75,93.33 L418.27,91.95 L419.79,90.56 L421.31,89.18 L422.83,87.78 L424.35,86.39 L425.87,84.99 L427.39,83.59 L428.92,82.19 L430.44,80.79 L431.96,79.39 L433.48,77.99 L435.00,76.59 L436.52,75.19 L438.04,73.79 L439.57,72.39 L441.09,70.98 L442.61,69.58 L444.13,68.18 L445.65,66.78 L447.17,65.38 L448.69,63.98 L450.21,62.58 L451.74,61.19 L453.26,59.79 L454.78,58.39 L456.30,57.00" stroke="#ff00ff" stroke-dasharray="3.4 2.5 7.4 2.9"/>
</g>
<g font-family="Liberation Sans, sans-serif" font-size="16.6" fill="#111">
<text x="115.45" y="271" text-anchor="middle">100</text>
<text x="212.95" y="271" text-anchor="middle">120</text>
<text x="310.45" y="271" text-anchor="middle">140</text>
<text x="407.95" y="271" text-anchor="middle">160</text>
<text x="62.6" y="257.00" text-anchor="end">0.00</text>
<text x="62.6" y="196.75" text-anchor="end">0.05</text>
<text x="62.6" y="136.50" text-anchor="end">0.10</text>
<text x="62.6" y="76.25" text-anchor="end">0.15</text>
<text x="62.6" y="16.00" text-anchor="end">0.20</text>
<text x="223" y="301.2" font-style="italic">M</text>
<text x="239" y="303.8" font-style="italic" font-size="11.4">H</text>
<text x="257.4" y="301.2">[GeV]</text>
<text transform="translate(15.70,246.10) rotate(-90)" >Γ</text>
<text transform="translate(9.80,236.00) rotate(-90)" font-size="11.6">LO</text>
<text transform="translate(15.70,215.30) rotate(-90)" >(</text>
<text transform="translate(15.70,208.80) rotate(-90)" font-style="italic">H</text>
<text transform="translate(15.70,163.00) rotate(-90)" >Z</text>
<text transform="translate(15.70,147.30) rotate(-90)" font-style="italic">γ</text>
<text transform="translate(15.70,139.60) rotate(-90)" >)</text>
<text transform="translate(15.70,130.80) rotate(-90)" >/</text>
<text transform="translate(15.70,121.80) rotate(-90)" >(</text>
<text transform="translate(15.70,115.30) rotate(-90)" font-style="italic">g</text>
<text transform="translate(9.80,105.90) rotate(-90)" font-size="11.6">S</text>
<text transform="translate(19.70,105.40) rotate(-90)" font-size="11.6" font-style="italic">H</text>
<text transform="translate(19.70,96.20) rotate(-90)" font-size="11.6" font-style="italic">t</text>
<text transform="translate(19.70,89.70) rotate(-90)" font-size="11.6" font-style="italic">t</text>
<text transform="translate(15.70,83.00) rotate(-90)" >)</text>
<text transform="translate(9.80,74.80) rotate(-90)" font-size="11.6">2</text>
<text transform="translate(15.70,59.10) rotate(-90)" font-size="16.8">[MeV]</text>
</g>
<g stroke="#111" stroke-width="1.25" fill="none"><path d="M11.5,189.7V169.4"/><path d="M7.2,174.0 Q10.6,172.4 11.5,169.0 Q12.4,172.4 15.8,174.0"/></g>
<g fill="none" stroke-width="1">
<path d="M99.8,34.5H134.8" stroke="#2a2a2a"/>
<path d="M99.7,58.5H134.8" stroke="#5555ff" stroke-dasharray="6.2 3.95"/>
<path d="M99.9,82.6H134" stroke="#ff5c5c" stroke-width="1.2" stroke-dasharray="2 4.33"/>
<path d="M99.7,106.6H135" stroke="#ff5cff" stroke-width="1.2" stroke-dasharray="2 4.3 6.2 3.9"/>
</g>
<g font-family="Liberation Mono, monospace">
<text transform="translate(147.20,37.40) scale(1.100,1)" font-size="13.30" fill="#111" stroke="#111" stroke-width="0.55">g</text><text transform="translate(155.80,31.40) scale(1.000,1)" font-size="10.60" fill="#222" stroke="#222" stroke-width="0.12">S</text><text transform="translate(157.80,41.70) scale(1.000,1)" font-size="10.60" fill="#222" stroke="#222" stroke-width="0.12" letter-spacing="-0.26">Hbb</text><text transform="translate(180.20,42.10) scale(1.000,1)" font-size="9.60" fill="#8a8a8a">(</text><text transform="translate(185.30,42.10) scale(1.000,1)" font-size="11.00" fill="#2a2a2a" stroke="#2a2a2a" stroke-width="0.30">H</text><text transform="translate(192.00,42.30) scale(1.200,1)" font-size="9.60" fill="#8a8a8a">τ</text><text transform="translate(197.80,42.30) scale(1.200,1)" font-size="9.60" fill="#8a8a8a">τ</text><text transform="translate(204.00,42.10) scale(1.000,1)" font-size="9.60" fill="#777">)</text><text transform="translate(211.60,38.90) scale(1.000,1)" font-size="14.60" fill="#777">/</text><text transform="translate(220.70,37.90) scale(1.100,1)" font-size="13.30" fill="#111" stroke="#111" stroke-width="0.55">g</text><text transform="translate(228.60,31.90) scale(1.000,1)" font-size="10.60" fill="#222" stroke="#222" stroke-width="0.12">S</text><text transform="translate(231.30,41.90) scale(1.000,1)" font-size="10.60" fill="#222" stroke="#222" stroke-width="0.12" letter-spacing="-0.56">Htt</text><text transform="translate(251.20,38.40) scale(1.000,1)" font-size="13.30" fill="#999">=</text><text transform="translate(259.40,38.20) scale(1.000,1)" font-size="14.20" fill="#111" stroke="#111" stroke-width="0.45" letter-spacing="0.40">1</text>
<text transform="translate(147.20,61.40) scale(1.100,1)" font-size="13.30" fill="#111" stroke="#111" stroke-width="0.55">g</text><text transform="translate(155.80,55.40) scale(1.000,1)" font-size="10.60" fill="#222" stroke="#222" stroke-width="0.12">S</text><text transform="translate(157.80,65.70) scale(1.000,1)" font-size="10.60" fill="#222" stroke="#222" stroke-width="0.12" letter-spacing="-0.26">Hbb</text><text transform="translate(180.20,66.10) scale(1.000,1)" font-size="9.60" fill="#8a8a8a">(</text><text transform="translate(185.30,66.10) scale(1.000,1)" font-size="11.00" fill="#2a2a2a" stroke="#2a2a2a" stroke-width="0.30">H</text><text transform="translate(192.00,66.30) scale(1.200,1)" font-size="9.60" fill="#8a8a8a">τ</text><text transform="translate(197.80,66.30) scale(1.200,1)" font-size="9.60" fill="#8a8a8a">τ</text><text transform="translate(204.00,66.10) scale(1.000,1)" font-size="9.60" fill="#777">)</text><text transform="translate(211.60,62.90) scale(1.000,1)" font-size="14.60" fill="#777">/</text><text transform="translate(220.70,61.90) scale(1.100,1)" font-size="13.30" fill="#111" stroke="#111" stroke-width="0.55">g</text><text transform="translate(228.60,55.90) scale(1.000,1)" font-size="10.60" fill="#222" stroke="#222" stroke-width="0.12">S</text><text transform="translate(231.30,65.90) scale(1.000,1)" font-size="10.60" fill="#222" stroke="#222" stroke-width="0.12" letter-spacing="-0.56">Htt</text><text transform="translate(251.20,62.40) scale(1.000,1)" font-size="13.30" fill="#999">=</text><text transform="translate(259.40,62.20) scale(1.000,1)" font-size="14.20" fill="#111" stroke="#111" stroke-width="0.45" letter-spacing="0.40">10</text>
<text transform="translate(147.20,85.50) scale(1.100,1)" font-size="13.30" fill="#111" stroke="#111" stroke-width="0.55">g</text><text transform="translate(155.80,79.50) scale(1.000,1)" font-size="10.60" fill="#222" stroke="#222" stroke-width="0.12">S</text><text transform="translate(157.80,89.80) scale(1.000,1)" font-size="10.60" fill="#222" stroke="#222" stroke-width="0.12" letter-spacing="-0.26">Hbb</text><text transform="translate(180.20,90.20) scale(1.000,1)" font-size="9.60" fill="#8a8a8a">(</text><text transform="translate(185.30,90.20) scale(1.000,1)" font-size="11.00" fill="#2a2a2a" stroke="#2a2a2a" stroke-width="0.30">H</text><text transform="translate(192.00,90.40) scale(1.200,1)" font-size="9.60" fill="#8a8a8a">τ</text><text transform="translate(197.80,90.40) scale(1.200,1)" font-size="9.60" fill="#8a8a8a">τ</text><text transform="translate(204.00,90.20) scale(1.000,1)" font-size="9.60" fill="#777">)</text><text transform="translate(211.60,87.00) scale(1.000,1)" font-size="14.60" fill="#777">/</text><text transform="translate(220.70,86.00) scale(1.100,1)" font-size="13.30" fill="#111" stroke="#111" stroke-width="0.55">g</text><text transform="translate(228.60,80.00) scale(1.000,1)" font-size="10.60" fill="#222" stroke="#222" stroke-width="0.12">S</text><text transform="translate(231.30,90.00) scale(1.000,1)" font-size="10.60" fill="#222" stroke="#222" stroke-width="0.12" letter-spacing="-0.56">Htt</text><text transform="translate(251.20,86.50) scale(1.000,1)" font-size="13.30" fill="#999">=</text><text transform="translate(259.40,86.30) scale(1.000,1)" font-size="14.20" fill="#111" stroke="#111" stroke-width="0.45" letter-spacing="0.40">20</text>
<text transform="translate(147.20,109.50) scale(1.100,1)" font-size="13.30" fill="#111" stroke="#111" stroke-width="0.55">g</text><text transform="translate(155.80,103.50) scale(1.000,1)" font-size="10.60" fill="#222" stroke="#222" stroke-width="0.12">S</text><text transform="translate(157.80,113.80) scale(1.000,1)" font-size="10.60" fill="#222" stroke="#222" stroke-width="0.12" letter-spacing="-0.26">Hbb</text><text transform="translate(180.20,114.20) scale(1.000,1)" font-size="9.60" fill="#8a8a8a">(</text><text transform="translate(185.30,114.20) scale(1.000,1)" font-size="11.00" fill="#2a2a2a" stroke="#2a2a2a" stroke-width="0.30">H</text><text transform="translate(192.00,114.40) scale(1.200,1)" font-size="9.60" fill="#8a8a8a">τ</text><text transform="translate(197.80,114.40) scale(1.200,1)" font-size="9.60" fill="#8a8a8a">τ</text><text transform="translate(204.00,114.20) scale(1.000,1)" font-size="9.60" fill="#777">)</text><text transform="translate(211.60,111.00) scale(1.000,1)" font-size="14.60" fill="#777">/</text><text transform="translate(220.70,110.00) scale(1.100,1)" font-size="13.30" fill="#111" stroke="#111" stroke-width="0.55">g</text><text transform="translate(228.60,104.00) scale(1.000,1)" font-size="10.60" fill="#222" stroke="#222" stroke-width="0.12">S</text><text transform="translate(231.30,114.00) scale(1.000,1)" font-size="10.60" fill="#222" stroke="#222" stroke-width="0.12" letter-spacing="-0.56">Htt</text><text transform="translate(251.20,110.50) scale(1.000,1)" font-size="13.30" fill="#999">=</text><text transform="translate(259.40,110.30) scale(1.000,1)" font-size="14.20" fill="#111" stroke="#111" stroke-width="0.45" letter-spacing="0.40">50</text>
<text transform="translate(339.70,40.10) scale(1.100,1)" font-size="13.30" fill="#111" stroke="#111" stroke-width="0.55">g</text>
<text transform="translate(351.20,41.00) scale(1.000,1)" font-size="9.60" fill="#555" stroke="#555" stroke-width="0.15">HWW</text>
<text transform="translate(370.30,39.20) scale(1.000,1)" font-size="13.30" fill="#777">/</text>
<text transform="translate(378.50,40.10) scale(1.100,1)" font-size="13.30" fill="#111" stroke="#111" stroke-width="0.55">g</text>
<text transform="translate(387.60,33.60) scale(1.000,1)" font-size="10.60" fill="#222" stroke="#222" stroke-width="0.12">S</text>
<text transform="translate(389.10,42.80) scale(1.000,1)" font-size="10.60" fill="#222" stroke="#222" stroke-width="0.12" letter-spacing="-0.26">Htt</text>
<text transform="translate(409.60,39.50) scale(1.000,1)" font-size="13.30" fill="#999">=</text>
<text transform="translate(417.20,39.80) scale(1.000,1)" font-size="14.20" fill="#111" stroke="#111" stroke-width="0.45">1</text>
</g>
</svg>
</body></html>
